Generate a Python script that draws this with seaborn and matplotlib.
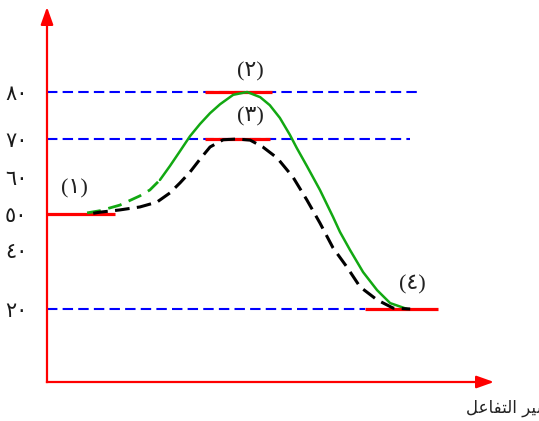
import numpy as np
import pandas as pd
import matplotlib
matplotlib.use("Agg")
import matplotlib.pyplot as plt
import seaborn as sns

# ---- data -------------------------------------------------------------
# reaction progress (0-10) and energy for the uncatalysed path (green)
green_x = [0.92, 1.22, 1.67, 2.13, 2.36, 2.59, 2.82, 3.05, 3.28, 3.51, 3.74,
           3.97, 4.27, 4.59, 4.89, 5.11, 5.34, 5.57, 5.73, 5.96, 6.26, 6.56,
           6.72, 6.95, 7.25, 7.57, 7.87, 8.26]
green_y = [50.3, 50.9, 52.4, 54.9, 56.5, 59.2, 62.9, 66.8, 70.6, 73.2, 75.5,
           77.4, 79.4, 80.0, 78.9, 77.2, 74.5, 70.9, 67.6, 62.9, 56.5, 49.2,
           45.0, 40.0, 32.5, 26.4, 22.0, 20.0]
green_dash_end = 5          # index where the dashed start turns solid

# catalysed path (black dashed)
black_x = [1.06, 1.22, 1.67, 2.13, 2.52, 2.82, 3.05, 3.28, 3.51, 3.74, 4.04,
           4.36, 4.66, 4.95, 5.28, 5.64, 5.96, 6.26, 6.56, 6.88, 7.18, 7.57,
           7.94, 8.33]
black_y = [50.2, 50.5, 51.1, 51.9, 53.2, 55.7, 58.4, 61.3, 64.7, 67.9, 69.8,
           70.0, 69.7, 67.9, 65.0, 60.0, 53.8, 47.5, 40.6, 34.2, 27.5, 23.1,
           20.3, 20.0]

# energy levels marked in red: (1) reactants, (2), (3) peaks, (4) products
level_values = [50, 80, 70, 20]
level_start = [0.0, 3.62, 3.62, 7.29]
level_end = [1.56, 5.16, 5.11, 8.97]
level_labels = ["(١)", "(٢)", "(٣)", "(٤)"]
label_x = [0.64, 4.66, 4.66, 8.37]
label_y = [56.8, 84.3, 74.7, 28.2]

# blue guide lines
guide_values = [80, 70, 20]
guide_end = [8.51, 8.33, 7.29]

tick_values = [20, 40, 50, 60, 70, 80]
tick_labels = ["٢٠", "٤٠", "٥٠", "٦٠", "٧٠", "٨٠"]

# "مسير التفاعل" written in presentation forms, visual order
x_title = "\uFEDE\uFECB\uFE8E\uFED4\uFE98\uFEDF\uFE8D \uFEAE\uFEF4\uFEB4\uFEE3"

# ---- figure -------------------------------------------------------------
sns.set_theme(style="white")
plt.rcParams["font.family"] = ["DejaVu Sans", "Noto Sans"]

W, H = 539, 421
fig = plt.figure(figsize=(W / 100, H / 100), dpi=100)
ax = fig.add_axes([47 / W, (H - 382) / H, (483 - 47) / W, (382 - 22) / H])

# the energy axis is drawn with uneven spacing between its marks
knot_vals = np.array([-10, 20, 40, 50, 60, 70, 80, 110], dtype=float)
knot_pos = np.array([-15.5, 73, 132, 168, 205, 243, 290, 431], dtype=float)


def fwd(v):
    return np.interp(v, knot_vals, knot_pos)


def inv(p):
    return np.interp(p, knot_pos, knot_vals)


ax.set_yscale("function", functions=(fwd, inv))
ax.set_xlim(0, 10)
ax.set_ylim(float(inv(0)), float(inv(360)))

# blue dashed guides
for v, e in zip(guide_values, guide_end):
    ax.plot([0, e], [v, v], color="#0000ff", lw=1.5,
            linestyle=(0, (5, 2.5)), zorder=2, solid_capstyle="butt")

# red energy levels
for v, s, e in zip(level_values, level_start, level_end):
    ax.plot([s, e], [v, v], color="#ff0000", lw=2.3, zorder=3,
            solid_capstyle="butt")

green = pd.DataFrame({"x": green_x, "y": green_y})
black = pd.DataFrame({"x": black_x, "y": black_y})

sns.lineplot(data=green.iloc[:green_dash_end + 1], x="x", y="y", ax=ax,
             sort=False, color="#12a812", lw=2.0, linestyle=(0, (5, 2.8)),
             zorder=4)
sns.lineplot(data=green.iloc[green_dash_end:], x="x", y="y", ax=ax,
             sort=False, color="#12a812", lw=1.8, zorder=4,
             solid_joinstyle="round")
sns.lineplot(data=black, x="x", y="y", ax=ax, sort=False, color="black",
             lw=2.2, linestyle=(0, (4.8, 2.4)), zorder=5)

for t, x, y in zip(level_labels, label_x, label_y):
    ax.text(x, y, t, ha="center", va="center", fontsize=16,
            family=["Liberation Serif", "DejaVu Sans"], color="#222222",
            zorder=6)

# axes: red lines with arrow heads
for side in ["top", "right"]:
    ax.spines[side].set_visible(False)
for side in ["left", "bottom"]:
    ax.spines[side].set_color("#ff0000")
    ax.spines[side].set_linewidth(1.6)
    ax.spines[side].set_zorder(7)

arrow = dict(arrowstyle="-|>,head_length=0.7,head_width=0.25",
             color="#ff0000", lw=1.6, mutation_scale=15,
             shrinkA=0, shrinkB=0)
ax.annotate("", xy=(0, 1 + 15 / 360), xytext=(0, 0.99),
            xycoords="axes fraction", arrowprops=arrow, annotation_clip=False)
ax.annotate("", xy=(1 + 11 / 436, 0), xytext=(0.99, 0),
            xycoords="axes fraction", arrowprops=arrow, annotation_clip=False)

ax.set_xticks([])
ax.set_yticks(tick_values)
ax.set_yticklabels(tick_labels)
ax.yaxis.set_minor_locator(matplotlib.ticker.NullLocator())
ax.tick_params(axis="y", length=0, pad=14, labelsize=15, labelcolor="#1a1a1a")
ax.set_xlabel("")
ax.set_ylabel("")

fig.text(466 / W, 1 - 408 / H, x_title, ha="left", va="center",
         fontsize=12, color="#222222")

fig.savefig("out.png", dpi=100)
